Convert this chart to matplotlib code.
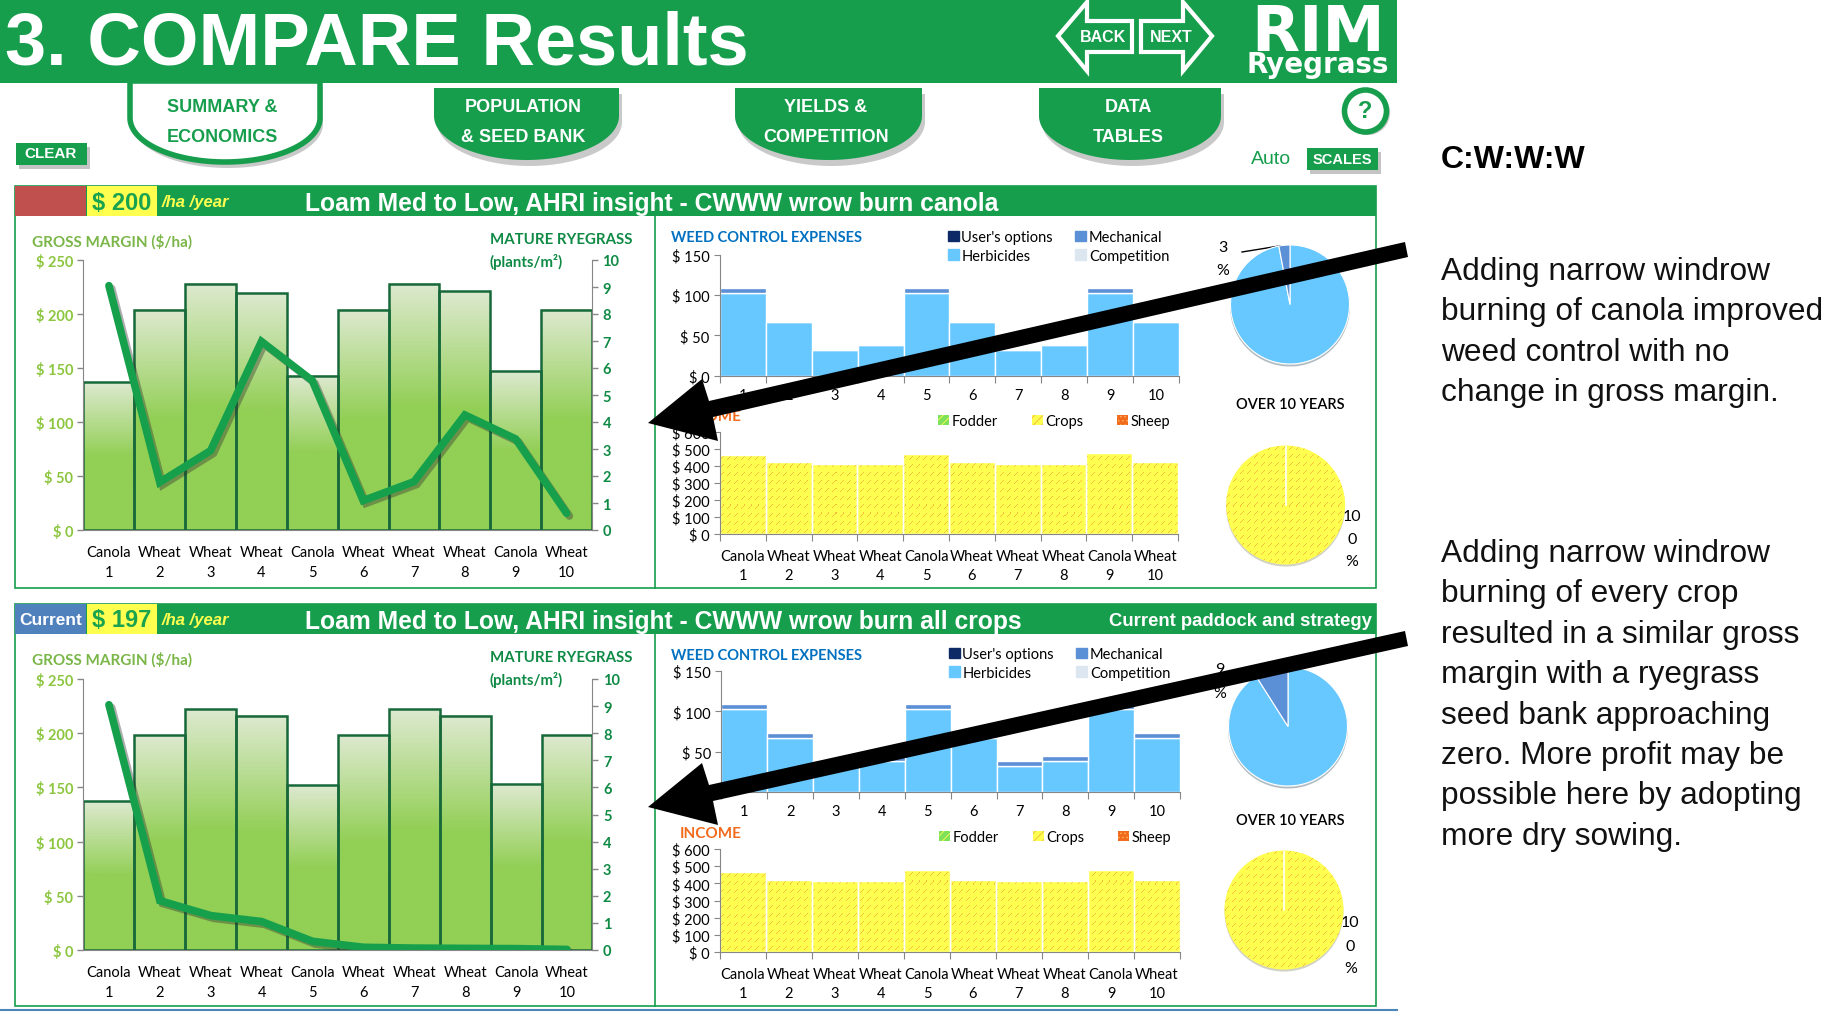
import numpy as np
import matplotlib
matplotlib.use('Agg')
import matplotlib.pyplot as plt
import matplotlib.patheffects as pe
from matplotlib.patches import Rectangle, Polygon, Patch, Circle
from matplotlib.colors import LinearSegmentedColormap, to_rgba

# Values
crops = ['Canola', 'Wheat', 'Wheat', 'Wheat', 'Canola', 'Wheat', 'Wheat', 'Wheat', 'Canola', 'Wheat']
years = [1, 2, 3, 4, 5, 6, 7, 8, 9, 10]

margin_top = [137, 204, 228, 219, 143, 204, 228, 221, 147, 204]
ryegrass_top = [9.05, 1.77, 2.94, 6.98, 5.53, 1.09, 1.79, 4.26, 3.37, 0.62]
herb_top = [103, 67, 32, 38, 103, 67, 32, 38, 103, 67]
mech_top = [5.5, 0, 0, 0, 5.5, 0, 0, 0, 5.5, 0]
income_top = [467, 424, 412, 412, 473, 424, 412, 412, 478, 424]
pie_cost_top = [97, 3]

margin_bot = [137, 198, 222, 216, 152, 198, 222, 216, 153, 198]
ryegrass_bot = [9.05, 1.82, 1.27, 1.05, 0.32, 0.1, 0.07, 0.06, 0.05, 0.02]
herb_bot = [103, 67, 32, 38, 103, 67, 32, 38, 103, 67]
mech_bot = [6.5, 6.5, 6.5, 6.5, 6.5, 6.5, 6.5, 6.5, 6.5, 6.5]
income_bot = [465, 420, 414, 414, 478, 420, 414, 414, 478, 420]
pie_cost_bot = [91, 9]

W, H = 1833, 1020
GREEN = '#179e4d'
LIGHT = '#8cc63f'
DARK = '#0f8a45'
YELLOW = '#ffff50'
BLUE = '#66c8ff'
MECH = '#5b8fd6'
SANS = 'Liberation Sans'
CAL = 'Lato'
plt.rcParams['font.family'] = [CAL, 'DejaVu Sans']
plt.rcParams['hatch.linewidth'] = 0.6

fig = plt.figure(figsize=(W / 100, H / 100), dpi=100, facecolor='white')


def px_axes(x0, y0, x1, y1, z=2):
    ax = fig.add_axes([x0 / W, 1 - y1 / H, (x1 - x0) / W, (y1 - y0) / H], zorder=z)
    ax.patch.set_visible(False)
    return ax


# full figure layer in pixel coordinates for the dashboard furniture
bg = px_axes(0, 0, W, H, z=0)
bg.set_xlim(0, W)
bg.set_ylim(H, 0)
bg.axis('off')


def box(x0, y0, x1, y1, color, shadow=False, **kw):
    if shadow:
        bg.add_patch(Rectangle((x0 + 3, y0 + 4), x1 - x0, y1 - y0, color='#c4c4c4', lw=0))
    bg.add_patch(Rectangle((x0, y0), x1 - x0, y1 - y0, facecolor=color, lw=kw.pop('lw', 0), **kw))


def label(x, y, s, **kw):
    kw.setdefault('ha', 'center')
    kw.setdefault('va', 'center')
    return bg.text(x, y, s, **kw)


def tab(x0, x1, y0, y1, fill, edge):
    # U shaped tab, straight sides then an elliptical bottom
    t = np.linspace(np.pi, 0, 60)
    mid, rx = (x0 + x1) / 2, (x1 - x0) / 2
    ys = y1 - 44
    xs = np.r_[x0, mid + rx * np.cos(t), x1]
    yy = np.r_[y0, ys + 44 * np.sin(t), y0]
    bg.add_patch(Polygon(np.c_[xs + 3, yy + 6], color='#c9c9c9', lw=0))
    bg.add_patch(Polygon(np.c_[xs, yy], facecolor=fill, edgecolor=edge, lw=4 if fill == 'white' else 0))


def dash_fill(ax, patch):
    # the Excel pattern fill: rows of short orange diagonal dashes
    tile = np.zeros((8, 7, 4))
    for i in range(4):
        tile[i, 3 - i] = to_rgba('#f9bd3c')
    ny, nx = int(ax.bbox.height), int(ax.bbox.width)
    arr = np.tile(tile, (ny // 8 + 1, nx // 7 + 1, 1))[:ny, :nx]
    xl, yl = ax.get_xlim(), ax.get_ylim()
    im = ax.imshow(arr, extent=(xl[0], xl[1], yl[0], yl[1]), origin='upper', aspect='auto',
                   interpolation='nearest', zorder=1.5)
    im.set_clip_path(patch)
    ax.set_xlim(xl)
    ax.set_ylim(yl)


# header bar
box(0, 0, 1397, 84, GREEN)
label(5, 45, '3. COMPARE Results', color='white', fontsize=53.4, family=SANS, weight='bold', ha='left')

back = [(1058, 37), (1087, 3), (1087, 22), (1132, 22), (1132, 53), (1087, 53), (1087, 72)]
nxt = [(1212, 37), (1183, 3), (1183, 22), (1141, 22), (1141, 53), (1183, 53), (1183, 72)]
for pts in (back, nxt):
    bg.add_patch(Polygon(pts, facecolor=GREEN, edgecolor='white', lw=3))
label(1103, 37, 'BACK', color='white', fontsize=11.5, family=SANS, weight='bold')
label(1171, 37, 'NEXT', color='white', fontsize=11.5, family=SANS, weight='bold')
label(1318, 51, 'RIM', color='white', fontsize=45, family='DejaVu Sans', weight='bold', va='baseline')
label(1318, 73, 'Ryegrass', color='white', fontsize=20, family='DejaVu Sans', weight='bold', va='baseline')

# tabs and buttons
tab(130, 320, 82, 163, 'white', GREEN)
tab(434, 619, 89, 161, GREEN, GREEN)
tab(735, 922, 89, 161, GREEN, GREEN)
tab(1039, 1221, 89, 161, GREEN, GREEN)
tabs = [(222, 'SUMMARY &', 'ECONOMICS', GREEN), (523, 'POPULATION', '& SEED BANK', 'white'),
        (826, 'YIELDS &', 'COMPETITION', 'white'), (1128, 'DATA', 'TABLES', 'white')]
for x, a, b, c in tabs:
    label(x, 107, a, color=c, fontsize=13, family=SANS, weight='bold')
    label(x, 137, b, color=c, fontsize=13, family=SANS, weight='bold')

box(16, 144, 87, 166, GREEN, shadow=True)
label(51, 154, 'CLEAR', color='white', fontsize=11, family=SANS, weight='bold')
box(1307, 149, 1378, 171, GREEN, shadow=True)
label(1342.5, 160, 'SCALES', color='white', fontsize=10.5, family=SANS, weight='bold')
label(1271, 160, 'Auto', color=GREEN, fontsize=14, family=SANS)
bg.add_patch(Circle((1368, 114), 22, color='#c9c9c9', lw=0))
bg.add_patch(Circle((1365.5, 112), 21, facecolor='white', edgecolor=GREEN, lw=4))
label(1365.5, 112, '?', color=GREEN, fontsize=17, family=SANS, weight='bold')


def panel(top, bottom, tag, tag_col, money, title, right=None):
    bg.add_patch(Rectangle((15.5, top), 1361, bottom - top, facecolor='white', edgecolor=GREEN, lw=1.2))
    box(15.5, top, 1376.5, top + 30, GREEN)
    box(15.5, top, 86, top + 30, tag_col)
    box(87, top, 157, top + 30, YELLOW)
    bg.plot([655, 655], [top + 30, bottom], color=GREEN, lw=1.2)
    if tag:
        label(51, top + 16, tag, color='white', fontsize=12.5, family=SANS, weight='bold')
    label(122, top + 16, money, color='#1aa34f', fontsize=17, family=SANS, weight='bold')
    label(162, top + 16, '/ha /year', color=YELLOW, fontsize=12, family=SANS, weight='bold',
          style='italic', ha='left')
    label(305, top + 17, title, color='white', fontsize=17.7, family=SANS, weight='bold', ha='left')
    if right:
        label(1372, top + 17, right, color='white', fontsize=13.3, family=SANS, weight='bold', ha='right')


def gradient_bars(ax, vals):
    cmap = LinearSegmentedColormap.from_list('gm', ['#92cf55', '#92cf55', '#dde9cf'])
    grad = np.linspace(0, 1, 128).reshape(-1, 1)
    for x, v in zip(years, vals):
        ax.imshow(grad, cmap=cmap, origin='lower', extent=(x - 0.5, x + 0.5, 0, v), aspect='auto', zorder=1)
    ax.bar(years, vals, width=1, fill=False, edgecolor='#17693a', lw=1.8, zorder=2)


def margin_chart(box_px, vals, weeds):
    ax = px_axes(*box_px)
    gradient_bars(ax, vals)
    ax.set_xlim(0.5, 10.5)
    ax.set_ylim(0, 250)
    ax.set_yticks([0, 50, 100, 150, 200, 250])
    ax.set_yticklabels(['$ %d' % v for v in [0, 50, 100, 150, 200, 250]], color=LIGHT,
                       fontsize=10.5, weight='bold')
    ax.set_xticks(years)
    ax.set_xticklabels(['%s\n%d' % (c, y) for c, y in zip(crops, years)], fontsize=10.5, linespacing=1.5)
    ax.tick_params(axis='x', length=0, pad=11)
    ax.tick_params(axis='y', color='#868686', length=4, width=1)
    ax.spines['top'].set_visible(False)
    ax.spines['right'].set_visible(False)
    ax.spines['left'].set_color('#868686')
    ax.spines['bottom'].set_color('#868686')
    ax2 = ax.twinx()
    ax2.patch.set_visible(False)
    ax2.plot(years, weeds, color='#16a04c', lw=5.5, solid_capstyle='round', solid_joinstyle='miter', zorder=5,
             path_effects=[pe.SimpleLineShadow(offset=(2, -2), alpha=0.4, shadow_color='#333333'), pe.Normal()])
    ax2.set_ylim(0, 10)
    ax2.set_yticks(range(11))
    ax2.set_yticklabels([str(i) for i in range(11)], color=DARK, fontsize=10.5, weight='bold')
    ax2.tick_params(axis='y', color='#868686', length=4, width=1)
    ax2.spines['top'].set_visible(False)
    ax2.spines['left'].set_visible(False)
    ax2.spines['bottom'].set_visible(False)
    ax2.spines['right'].set_color('#868686')


def boundary_axis(ax, labels, pad):
    # ticks sit between the years, labels on the years
    ax.set_xlim(0.5, 10.5)
    ax.set_xticks(np.arange(0.5, 11))
    ax.set_xticklabels([])
    ax.set_xticks(years, minor=True)
    ax.set_xticklabels(labels, minor=True, fontsize=10.5, linespacing=1.4)
    ax.tick_params(axis='x', which='major', color='#868686', length=5)
    ax.tick_params(axis='x', which='minor', length=0, pad=pad)
    ax.tick_params(axis='y', color='#868686', length=4, labelsize=10.5)
    ax.spines['top'].set_visible(False)
    ax.spines['right'].set_visible(False)
    ax.spines['left'].set_color('#868686')
    ax.spines['bottom'].set_color('#868686')


def cost_chart(box_px, herb, mech, legend_xy):
    ax = px_axes(*box_px)
    ax.bar(years, herb, width=1, color=BLUE, edgecolor='white', lw=1)
    ax.bar(years, mech, width=1, bottom=herb, color=MECH, edgecolor='white', lw=1)
    ax.set_ylim(0, 150)
    ax.set_yticks([0, 50, 100, 150])
    ax.set_yticklabels(['$ 0', '$ 50', '$ 100', '$ 150'])
    boundary_axis(ax, [str(y) for y in years], 9)
    handles = [Patch(color='#0d2a66', label="User's options"), Patch(color=BLUE, label='Herbicides'),
               Patch(color=MECH, label='Mechanical'), Patch(color='#dce6f1', label='Competition')]
    ax.legend(handles=handles, ncol=2, loc='upper left', bbox_to_anchor=legend_xy, bbox_transform=bg.transData,
              frameon=False, fontsize=10.5, handlelength=0.75, handleheight=0.75, handletextpad=0.2,
              labelspacing=0.33, columnspacing=1.5, borderpad=0, borderaxespad=0)


def income_chart(box_px, vals, legend_xy):
    ax = px_axes(*box_px)
    bars = ax.bar(years, vals, width=1, color=YELLOW, lw=0)
    ax.set_ylim(0, 600)
    ax.set_yticks(range(0, 601, 100))
    ax.set_yticklabels(['$ %d' % v for v in range(0, 601, 100)])
    boundary_axis(ax, ['%s\n%d' % (c, y) for c, y in zip(crops, years)], 11)
    for b in bars:
        dash_fill(ax, b)
    ax.bar(years, vals, width=1, fill=False, edgecolor='white', lw=1, zorder=2)
    handles = [Patch(facecolor='#7fe05a', edgecolor=YELLOW, hatch='////', lw=0, label='Fodder'),
               Patch(facecolor=YELLOW, edgecolor='#f2b63c', hatch='////', lw=0, label='Crops'),
               Patch(facecolor='#f26a1b', edgecolor='#f8b060', hatch='....', lw=0, label='Sheep')]
    ax.legend(handles=handles, ncol=3, loc='upper left', bbox_to_anchor=legend_xy, bbox_transform=bg.transData,
              frameon=False, fontsize=10.5, handlelength=0.75, handleheight=0.75, handletextpad=0.2,
              columnspacing=2.3, borderpad=0, borderaxespad=0)


def pie_chart(cx, cy, vals=None):
    r = 59.5
    ax = px_axes(cx - r, cy - r, cx + r, cy + r)
    shadow = {'ox': 0.0, 'oy': -0.025, 'shade': 0.7, 'alpha': 0.25}
    if vals is None:
        wedges, _ = ax.pie([100], radius=1, startangle=90, colors=[YELLOW], shadow=shadow,
                           wedgeprops=dict(lw=0))
    else:
        ax.pie(vals, radius=1, startangle=90, counterclock=False, colors=[BLUE, MECH], shadow=shadow,
               wedgeprops=dict(edgecolor='white', lw=0.8))
    ax.set_xlim(-1, 1)
    ax.set_ylim(-1, 1)
    if vals is None:
        dash_fill(ax, wedges[0])
        ax.plot([0, 0], [0, 1], color='white', lw=1.2, zorder=3)


def chart_text(top, income_y, over_y):
    label(32, top + 55, 'GROSS MARGIN ($/ha)', color='#7ab648', fontsize=11, weight='bold', ha='left')
    label(490, top + 53, 'MATURE RYEGRASS', color=DARK, fontsize=10.8, weight='bold', ha='left')
    label(490, top + 75.5, '(plants/m²)', color=DARK, fontsize=10.8, weight='bold', ha='left')
    label(671, top + 51, 'WEED CONTROL EXPENSES', color='#0070c0', fontsize=10.5, weight='bold', ha='left')
    label(680, income_y, 'INCOME', color='#f26a1b', fontsize=11, weight='bold', ha='left')
    label(1290, over_y, 'OVER 10 YEARS', color='black', fontsize=10.5, weight='semibold')


def stacked(x, ys, chars):
    for y, c in zip(ys, chars):
        label(x, y, c, fontsize=11.5)


# top scenario
panel(187, 589, None, '#c0504d', '$ 200', 'Loam Med to Low, AHRI insight - CWWW wrow burn canola')
chart_text(187, 417, 405)
margin_chart((83.5, 261, 592, 531), margin_top, ryegrass_top)
cost_chart((720, 255.7, 1179, 376.7), herb_top, mech_top, (947.6, 231))
income_chart((720, 433, 1178, 535), income_top, (938, 415))
pie_chart(1290, 305.5, pie_cost_top)
pie_chart(1285.6, 506)
bg.plot([1242, 1281], [253, 246.7], color='black', lw=1)
stacked(1222.7, [248, 271], ['3', '%'])
stacked(1299, [323, 347], ['97', '%'])
stacked(1352, [517, 540, 562], ['10', '0', '%'])

# bottom scenario
panel(605, 1007, 'Current', '#4f81bd', '$ 197', 'Loam Med to Low, AHRI insight - CWWW wrow burn all crops',
      'Current paddock and strategy')
chart_text(605, 834, 821)
margin_chart((83.5, 680, 592.5, 951), margin_bot, ryegrass_bot)
cost_chart((721.5, 672, 1180, 793), herb_bot, mech_bot, (948.6, 648))
income_chart((720, 850, 1180, 953), income_bot, (939, 831))
pie_chart(1288, 727.5, pie_cost_bot)
pie_chart(1284, 911)
stacked(1220, [670, 694], ['9', '%'])
stacked(1298, [746, 768], ['91', '%'])
stacked(1350.5, [923, 947, 969], ['10', '0', '%'])

bg.plot([0, 1397], [1011, 1011], color='#4a86b8', lw=1.5)

# commentary on the right
label(1441, 160, 'C:W:W:W', color='black', fontsize=23, family=SANS, weight='bold', ha='left')
notes_a = ['Adding narrow windrow', 'burning of canola improved', 'weed control with no', 'change in gross margin.']
notes_b = ['Adding narrow windrow', 'burning of every crop', 'resulted in a similar gross', 'margin with a ryegrass',
           'seed bank approaching', 'zero. More profit may be', 'possible here by adopting', 'more dry sowing.']
for i, s in enumerate(notes_a):
    label(1441, 272 + i * 40.5, s, color='#111111', fontsize=22.8, family=SANS, ha='left')
for i, s in enumerate(notes_b):
    label(1441, 554 + i * 40.4, s, color='#111111', fontsize=22.8, family=SANS, ha='left')

# big black arrows over everything
top = px_axes(0, 0, W, H, z=10)
top.set_xlim(0, W)
top.set_ylim(H, 0)
top.axis('off')
arrow_a = [(1405, 243), (709, 402), (702, 380), (648, 424), (718, 442), (713, 418), (1408, 258)]
arrow_b = [(1405, 632), (709, 786), (702, 764), (648, 808), (718, 826), (713, 802), (1408, 647)]
for pts in (arrow_a, arrow_b):
    top.add_patch(Polygon(pts, color='black', lw=0))

fig.savefig('out.png', dpi=100)
